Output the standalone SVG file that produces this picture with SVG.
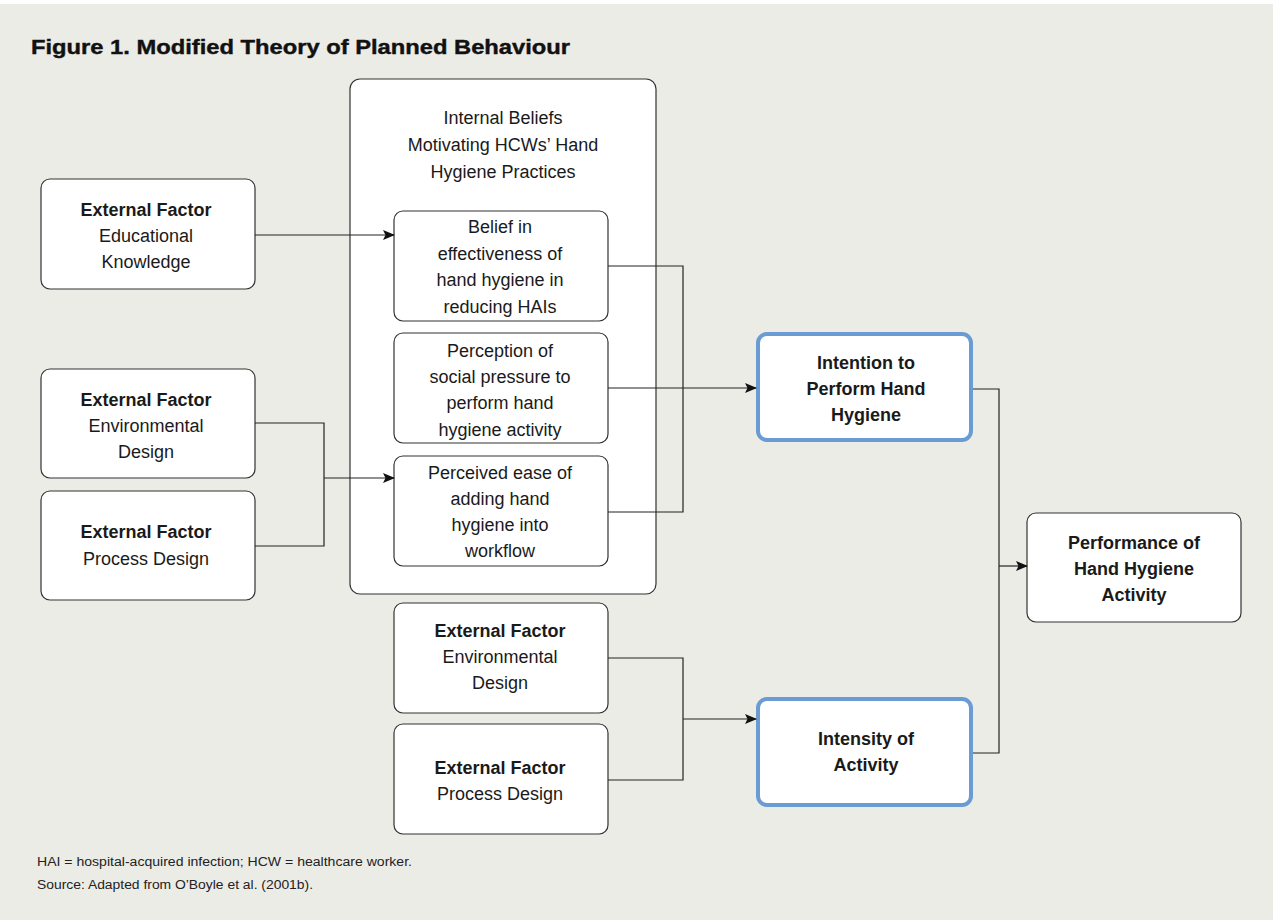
<svg xmlns="http://www.w3.org/2000/svg" width="1273" height="920" viewBox="0 0 1273 920">
<defs>
<style>
.bg{fill:#ECECE7}
.box{fill:#fff;stroke:#333;stroke-width:1.2}
.blue{fill:#fff;stroke:#6A9BD3;stroke-width:4}
.t{font-family:"Liberation Sans",Arial,sans-serif;font-size:18px;fill:#1a1a1a;text-anchor:middle}
.b{font-weight:bold}
.title{font-family:"Liberation Sans",Arial,sans-serif;font-size:20px;font-weight:bold;fill:#111;stroke:#111;stroke-width:0.4}
.foot{font-family:"Liberation Sans",Arial,sans-serif;font-size:12.5px;fill:#222}
.c{fill:none;stroke:#222;stroke-width:1.2}
</style>
<marker id="ah" markerWidth="12" markerHeight="10" refX="11" refY="5" orient="auto" markerUnits="userSpaceOnUse">
<path d="M0,0 L12,5 L0,10 L2.5,5 z" fill="#111"/>
</marker>
</defs>
<rect x="0" y="0" width="1273" height="920" fill="#fff"/>
<rect class="bg" x="0" y="4" width="1273" height="916"/>
<text class="title" x="31" y="54" textLength="539" lengthAdjust="spacingAndGlyphs">Figure 1. Modified Theory of Planned Behaviour</text>

<g id="internal-beliefs">
<rect class="box" x="350" y="79" width="306" height="515" rx="10"/>
<text class="t" x="503" y="124">Internal Beliefs</text>
<text class="t" x="503" y="151">Motivating HCWs’ Hand</text>
<text class="t" x="503" y="178">Hygiene Practices</text>
</g>

<g id="ext-educational">
<rect class="box" x="41" y="179" width="214" height="110" rx="9"/>
<text class="t b" x="146" y="216">External Factor</text>
<text class="t" x="146" y="242">Educational</text>
<text class="t" x="146" y="268">Knowledge</text>
</g>

<g id="ext-env-left">
<rect class="box" x="41" y="369" width="214" height="109" rx="9"/>
<text class="t b" x="146" y="406">External Factor</text>
<text class="t" x="146" y="432">Environmental</text>
<text class="t" x="146" y="458">Design</text>
</g>

<g id="ext-proc-left">
<rect class="box" x="41" y="491" width="214" height="109" rx="9"/>
<text class="t b" x="146" y="538">External Factor</text>
<text class="t" x="146" y="565">Process Design</text>
</g>

<g id="belief">
<rect class="box" x="394" y="211" width="214" height="110" rx="9"/>
<text class="t" x="500" y="233">Belief in</text>
<text class="t" x="500" y="260">effectiveness of</text>
<text class="t" x="500" y="286">hand hygiene in</text>
<text class="t" x="500" y="313">reducing HAIs</text>
</g>

<g id="perception">
<rect class="box" x="394" y="333" width="214" height="110" rx="9"/>
<text class="t" x="500" y="357">Perception of</text>
<text class="t" x="500" y="383">social pressure to</text>
<text class="t" x="500" y="409">perform hand</text>
<text class="t" x="500" y="436">hygiene activity</text>
</g>

<g id="ease">
<rect class="box" x="394" y="456" width="214" height="110" rx="9"/>
<text class="t" x="500" y="479">Perceived ease of</text>
<text class="t" x="500" y="505">adding hand</text>
<text class="t" x="500" y="531">hygiene into</text>
<text class="t" x="500" y="557">workflow</text>
</g>

<g id="ext-env-bottom">
<rect class="box" x="394" y="603" width="214" height="110" rx="9"/>
<text class="t b" x="500" y="637">External Factor</text>
<text class="t" x="500" y="663">Environmental</text>
<text class="t" x="500" y="689">Design</text>
</g>

<g id="ext-proc-bottom">
<rect class="box" x="394" y="724" width="214" height="110" rx="9"/>
<text class="t b" x="500" y="774">External Factor</text>
<text class="t" x="500" y="800">Process Design</text>
</g>

<g id="intention">
<rect class="blue" x="758" y="334" width="213" height="106" rx="9"/>
<text class="t b" x="866" y="369">Intention to</text>
<text class="t b" x="866" y="395">Perform Hand</text>
<text class="t b" x="866" y="421">Hygiene</text>
</g>

<g id="intensity">
<rect class="blue" x="758" y="699" width="213" height="106" rx="9"/>
<text class="t b" x="866" y="745">Intensity of</text>
<text class="t b" x="866" y="771">Activity</text>
</g>

<g id="performance">
<rect class="box" x="1027" y="513" width="214" height="109" rx="9"/>
<text class="t b" x="1134" y="549">Performance of</text>
<text class="t b" x="1134" y="575">Hand Hygiene</text>
<text class="t b" x="1134" y="601">Activity</text>
</g>

<g id="connectors">
<path class="c" d="M255,235 H394" marker-end="url(#ah)"/>
<path class="c" d="M255,423 H324 V546 H255"/>
<path class="c" d="M324,478 H394" marker-end="url(#ah)"/>
<path class="c" d="M608,266 H683 V512 H608"/>
<path class="c" d="M608,388 H756" marker-end="url(#ah)"/>
<path class="c" d="M608,658 H683 V780 H608"/>
<path class="c" d="M683,719 H756" marker-end="url(#ah)"/>
<path class="c" d="M973,389 H999 V753 H973"/>
<path class="c" d="M999,566 H1027" marker-end="url(#ah)"/>
</g>

<text class="foot" x="37" y="866" textLength="375" lengthAdjust="spacingAndGlyphs">HAI = hospital-acquired infection; HCW = healthcare worker.</text>
<text class="foot" x="37" y="889" textLength="276" lengthAdjust="spacingAndGlyphs">Source: Adapted from O’Boyle et al. (2001b).</text>
</svg>
